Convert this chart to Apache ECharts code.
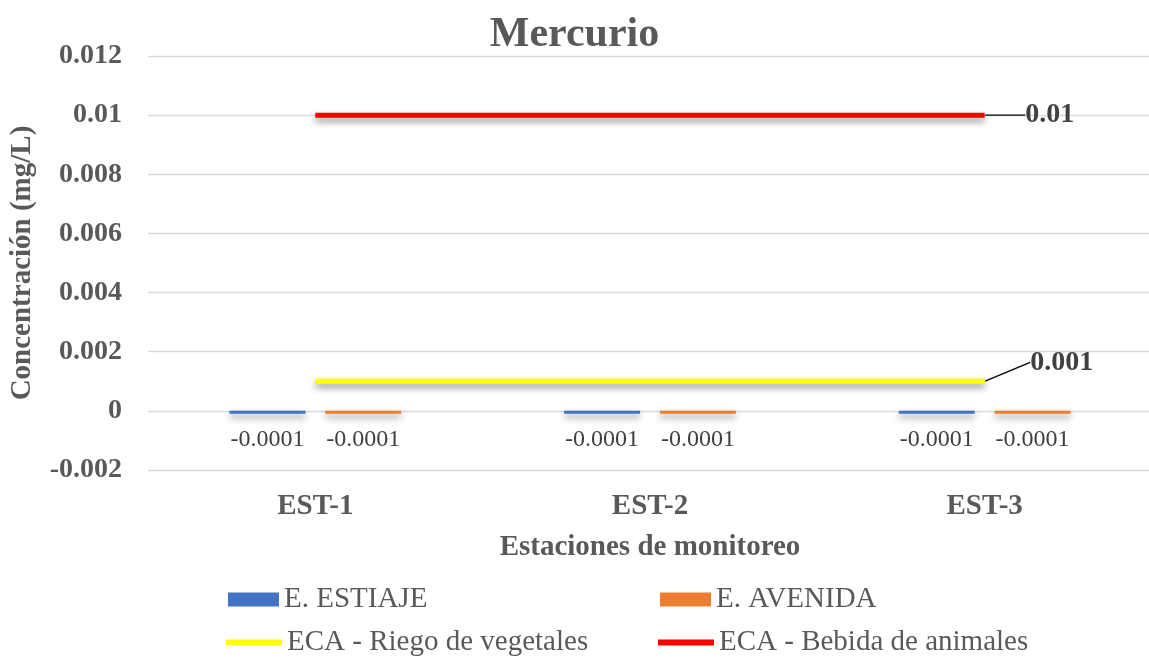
<!DOCTYPE html>
<html>
<head>
    <meta charset="utf-8"/>
    <title>Mercurio</title>
    <style>
        html, body { margin: 0; padding: 0; background: #fff; }
        #main { width: 1149px; height: 661px; }
    </style>
</head>
<body>
<div id="main"></div>
<script src="https://cdn.jsdelivr.net/npm/echarts@6/dist/echarts.min.js"></script>
<script>
    // datos
    var estaciones = ['EST-1', 'EST-2', 'EST-3'];
    var estiaje = [-0.0001, -0.0001, -0.0001];
    var avenida = [-0.0001, -0.0001, -0.0001];
    var ecaRiego = [0.001, 0.001, 0.001];
    var ecaBebida = [0.01, 0.01, 0.01];

    var serif = 'Liberation Serif';
    var sombra = {
        shadowColor: 'rgba(0,0,0,0.45)',
        shadowBlur: 7,
        shadowOffsetY: 4
    };

    // solo el ultimo punto lleva etiqueta
    function conEtiqueta(arr) {
        return arr.map(function (v, i) {
            if (i !== arr.length - 1) return v;
            return { value: v, label: { show: true } };
        });
    }

    // una leyenda por casilla
    function leyenda(nombre, left, top, w, h) {
        var estilo = { fontFamily: serif, fontSize: 29, fontWeight: 'normal', color: '#595959' };
        return {
            left: left,
            top: top,
            icon: 'rect',
            itemWidth: w,
            itemHeight: h,
            itemGap: 0,
            textStyle: estilo,
            data: [{ name: nombre, textStyle: estilo }]
        };
    }

    var option = {
        backgroundColor: '#fff',
        animation: false,
        textStyle: { fontFamily: serif },
        title: {
            text: 'Mercurio',
            left: 'center',
            top: 9,
            textStyle: { fontFamily: serif, fontSize: 42, fontWeight: 'bold', color: '#595959' }
        },
        legend: [
            leyenda('E. ESTIAJE', 223, 580, 51, 14),
            leyenda('E. AVENIDA', 655, 580, 51, 14),
            leyenda('ECA - Riego de vegetales', 221, 623, 56, 6),
            leyenda('ECA - Bebida de animales', 653, 623, 56, 6)
        ],
        grid: {
            left: 148,
            top: 56,
            width: 1004,
            height: 414,
            outerBoundsMode: 'none'
        },
        xAxis: {
            type: 'category',
            data: estaciones,
            position: 'bottom',
            axisLine: { show: false, onZero: false },
            axisTick: { show: false },
            axisLabel: { fontFamily: serif, fontSize: 29, fontWeight: 'bold', color: '#595959', margin: 22 },
            name: 'Estaciones de monitoreo',
            nameLocation: 'middle',
            nameGap: 63,
            nameTextStyle: { fontFamily: serif, fontSize: 29, fontWeight: 'bold', color: '#595959' }
        },
        yAxis: {
            type: 'value',
            min: -0.002,
            max: 0.012,
            interval: 0.002,
            axisLine: { show: false },
            axisTick: { show: false },
            splitLine: { lineStyle: { color: '#d9d9d9', width: 1.3 } },
            axisLabel: {
                fontFamily: serif, fontSize: 28, fontWeight: 'bold', color: '#595959', margin: 26,
                formatter: function (v) { return +v.toFixed(3) + ''; }
            },
            name: 'Concentración (mg/L)',
            nameLocation: 'middle',
            nameGap: 111,
            nameTextStyle: { fontFamily: serif, fontSize: 29, fontWeight: 'bold', color: '#595959' }
        },
        series: [
            {
                name: 'E. ESTIAJE',
                type: 'bar',
                data: estiaje,
                barWidth: 76,
                barGap: '26%',
                itemStyle: Object.assign({ color: '#4472c4' }, sombra),
                label: {
                    show: true, position: 'bottom', distance: 14,
                    fontFamily: serif, fontSize: 24, color: '#404040'
                }
            },
            {
                name: 'E. AVENIDA',
                type: 'bar',
                data: avenida,
                barWidth: 76,
                itemStyle: Object.assign({ color: '#ed7d31' }, sombra),
                label: {
                    show: true, position: 'bottom', distance: 14,
                    fontFamily: serif, fontSize: 24, color: '#404040'
                }
            },
            {
                name: 'ECA - Riego de vegetales',
                type: 'line',
                data: conEtiqueta(ecaRiego),
                symbol: 'circle',
                symbolSize: 1,
                showSymbol: true,
                lineStyle: Object.assign({ color: '#ffff00', width: 5 }, sombra),
                itemStyle: { color: '#ffff00' },
                label: {
                    show: false, position: 'right', distance: 0,
                    fontFamily: serif, fontSize: 28, fontWeight: 'bold', color: '#404040'
                },
                labelLayout: { dx: 45, dy: -19 },
                labelLine: { show: true, lineStyle: { color: '#000', width: 1.3 } }
            },
            {
                name: 'ECA - Bebida de animales',
                type: 'line',
                data: conEtiqueta(ecaBebida),
                symbol: 'circle',
                symbolSize: 1,
                showSymbol: true,
                lineStyle: Object.assign({ color: '#ff0000', width: 5 }, sombra),
                itemStyle: { color: '#ff0000' },
                label: {
                    show: false, position: 'right', distance: 0,
                    fontFamily: serif, fontSize: 28, fontWeight: 'bold', color: '#404040'
                },
                labelLayout: { dx: 40, dy: 0 },
                labelLine: { show: true, lineStyle: { color: '#000', width: 1.3 } }
            }
        ]
    };

    var myChart = echarts.init(document.getElementById('main'));
    myChart.setOption(option);
</script>
</body>
</html>
